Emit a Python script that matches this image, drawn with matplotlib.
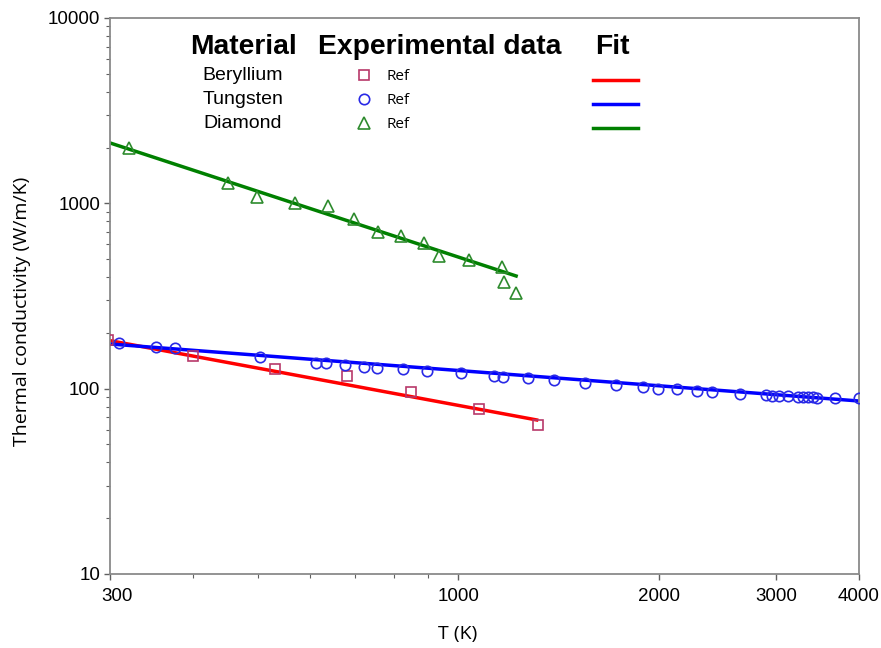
import matplotlib
matplotlib.use("Agg")
import matplotlib.pyplot as plt
from matplotlib.ticker import FixedLocator, NullFormatter, FixedFormatter, LogLocator
import matplotlib.transforms as mtransforms

# ---------------- data ----------------
be_T = [298, 400, 531, 682, 849, 1074, 1318]
be_K = [184, 150, 128, 117, 96.3, 77.4, 63.5]
be_fit_T = [300, 1312]
be_fit_K = [181.6, 67.8]

w_T = [310, 352, 375, 504, 612, 633, 676, 722, 756, 826, 899, 1011, 1132, 1167,
       1273, 1393, 1549, 1724, 1897, 1996, 2134, 2282, 2404, 2651, 2900, 2961,
       3037, 3130, 3240, 3292, 3354, 3417, 3463, 3681, 4000]
w_K = [175.8, 168.6, 166.5, 148.8, 138.1, 137.1, 134.3, 131.5, 129.8, 127.3,
       124.6, 121.1, 117.1, 116.1, 113.8, 111.4, 107.7, 104.7, 102.1, 100.0,
       99.3, 97.5, 96.0, 93.6, 92.1, 91.7, 91.3, 91.0, 90.5, 90.2, 90.2, 89.8,
       89.4, 89.4, 88.8]
w_fit_T = [300, 4000]
w_fit_K = [174.2, 85.8]

d_T = [320, 451, 499, 569, 638, 698, 758, 820, 889, 936, 1038, 1164, 1172, 1222]
d_K = [1991, 1288, 1083, 1005, 968, 824, 701, 667, 611, 520, 495, 454, 376, 328]
d_fit_T = [300, 1222]
d_fit_K = [2118, 405.5]

materials = ["Beryllium", "Tungsten", "Diamond"]
exp_labels = ["Ref", "Ref", "Ref"]
headers = ["Material", "Experimental data", "Fit"]

x_ticks = [300, 1000, 2000, 3000, 4000]
x_tick_labels = ["300", "1000", "2000", "3000", "4000"]
x_minor = [400, 500, 600, 700, 800, 900]
y_ticks = [10, 100, 1000, 10000]
y_tick_labels = ["10", "100", "1000", "10000"]

# ---------------- style ----------------
line_colors = ["#FF0000", "#0000FF", "#008000"]
mk_colors = ["#B8386A", "#2A2AE6", "#2E8B2E"]
markers = ["s", "o", "^"]
msizes = [6.5, 7.5, 9]
sans2 = ["Open Sans", "Noto Sans", "DejaVu Sans"]

W, H = 881, 648
fig = plt.figure(figsize=(W / 100, H / 100), dpi=100)
ax = fig.add_axes([110 / W, (H - 574) / H, 749 / W, 556 / H])
ax.set_xscale("log")
ax.set_yscale("log")
ax.set_xlim(300, 4000)
ax.set_ylim(10, 10000)

series = [(be_T, be_K, be_fit_T, be_fit_K),
          (w_T, w_K, w_fit_T, w_fit_K),
          (d_T, d_K, d_fit_T, d_fit_K)]
for i, (xT, yK, fT, fK) in enumerate(series):
    ax.plot(fT, fK, color=line_colors[i], lw=2.5, zorder=2)
    ax.plot(xT, yK, linestyle="none", marker=markers[i], ms=msizes[i],
            mfc="none", mec=mk_colors[i], mew=1.2, zorder=3)

# ticks
ax.xaxis.set_major_locator(FixedLocator(x_ticks))
ax.xaxis.set_major_formatter(FixedFormatter(x_tick_labels))
ax.xaxis.set_minor_locator(FixedLocator(x_minor))
ax.xaxis.set_minor_formatter(NullFormatter())
ax.yaxis.set_major_locator(FixedLocator(y_ticks))
ax.yaxis.set_major_formatter(FixedFormatter(y_tick_labels))
ax.yaxis.set_minor_locator(LogLocator(base=10, subs=range(2, 10)))
ax.yaxis.set_minor_formatter(NullFormatter())

spine_col = "#8a8a8a"
for s in ax.spines.values():
    s.set_color(spine_col)
    s.set_linewidth(1.3)
ax.tick_params(which="both", direction="out", color="#606060", top=False, right=False)
ax.tick_params(which="major", length=4, width=1.0, labelsize=13.5, pad=3)
ax.tick_params(which="minor", length=3, width=0.8)
for lab in ax.get_xticklabels() + ax.get_yticklabels():
    lab.set_fontfamily("Liberation Sans")
ax.tick_params(axis="x", pad=6)

# shift first x label (300) slightly right like the reference
first = ax.get_xticklabels()[0]
off = mtransforms.ScaledTranslation(7 / 100, 0, fig.dpi_scale_trans)
first.set_transform(first.get_transform() + off)

ax.set_xlabel("T (K)", fontsize=14, family=sans2)
ax.xaxis.set_label_coords((458 - 110) / 749, (574 - 634) / 556)
ax.xaxis.label.set_va("center")
ax.set_ylabel("Thermal conductivity (W/m/K)", fontsize=14, family=sans2)
ax.yaxis.set_label_coords((22 - 110) / 749, (574 - 311) / 556)
ax.yaxis.label.set_va("center")

# ---------------- custom legend (table) ----------------
ov = fig.add_axes([0, 0, 1, 1], facecolor="none")
ov.set_xlim(0, W)
ov.set_ylim(H, 0)
ov.axis("off")

hdr_x = [243, 440, 612]
for hx, htxt in zip(hdr_x, headers):
    ov.text(hx, 47, htxt, ha="center", va="center", fontsize=20.3,
            fontweight="bold", family="Liberation Sans")

row_y = [76, 100, 124]
for i in range(3):
    ov.text(243, row_y[i], materials[i], ha="center", va="center",
            fontsize=14, family="Liberation Sans")
    ov.plot([364], [row_y[i] - 1], linestyle="none", marker=markers[i],
            ms=msizes[i], mfc="none", mec=mk_colors[i], mew=1.2)
    ov.text(387, row_y[i], exp_labels[i], ha="left", va="center",
            fontsize=11, family=sans2)
    ov.plot([593, 638], [row_y[i] + 4, row_y[i] + 4], color=line_colors[i], lw=2.5)

fig.savefig("out.png", dpi=100)
